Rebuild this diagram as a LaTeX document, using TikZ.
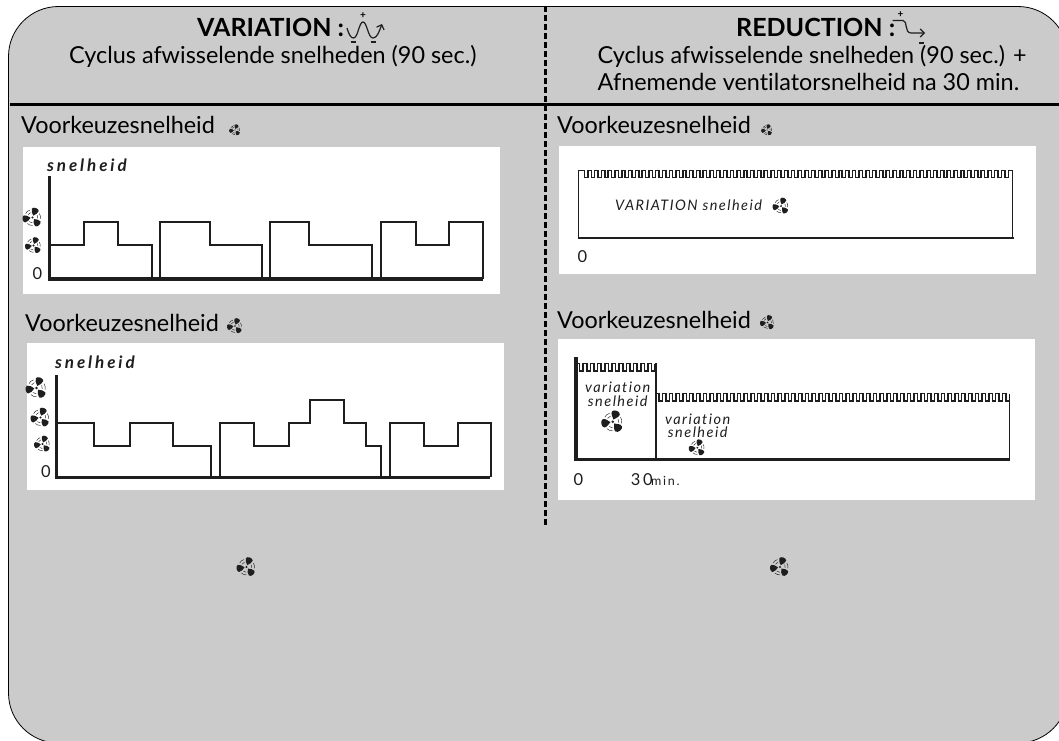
\documentclass[tikz,border=0pt]{standalone}
\usepackage{fontspec}
\setmainfont{Lato}[Ligatures=NoCommon]
\usetikzlibrary{arrows.meta}
\definecolor{panelgray}{RGB}{203, 203, 203}
\definecolor{inkblack}{RGB}{30, 30, 30}
\tikzset{
    bodytext/.style={anchor=base west, inner sep=0pt, text=black, font=\fontsize{23.4}{27}\selectfont},
    headtext/.style={anchor=base west, inner sep=0pt, text=black, font=\fontsize{25}{29}\selectfont\bfseries},
    axislabel/.style={anchor=base west, inner sep=0pt, text=inkblack,
        font=\fontsize{17}{20}\selectfont\itshape\bfseries\addfontfeature{LetterSpace=17}},
    chartlabel/.style={anchor=base, inner sep=0pt, text=inkblack,
        font=\fontsize{14.5}{17}\selectfont\itshape\addfontfeature{LetterSpace=10}},
    smallnumber/.style={anchor=base west, inner sep=0pt, text=inkblack, font=\fontsize{16.5}{20}\selectfont},
    iconsign/.style={inner sep=0pt, font=\bfseries\fontsize{10}{10}\selectfont},
    whitepanel/.style={fill=white},
    stepline/.style={draw=inkblack, line width=2pt, line join=miter},
    axisline/.style={draw=inkblack, line width=3.4pt},
    waveline/.style={draw=inkblack, line width=1.5pt},
    iconline/.style={draw=inkblack, line width=1.2pt},
    fanicon/.pic={
        \fill[inkblack] (0, 0) circle (.12);
        \foreach \ang in {70, 190, 310} {%
            \fill[inkblack, rotate=\ang]
                (.2, 0) .. controls (.42, .16) and (.58, .42) .. (.82, .36)
                .. controls (1.07, .28) and (1.07, -.28) .. (.82, -.36)
                .. controls (.58, -.42) and (.42, -.16) .. (.2, 0);
            \draw[inkblack, line width=.45pt, rotate=\ang+60]
                (.5, .16) .. controls (.55, .06) and (.55, -.06) .. (.5, -.16);
            \draw[inkblack, line width=.45pt, rotate=\ang+60]
                (.74, .27) .. controls (.82, .1) and (.82, -.1) .. (.74, -.27);
        };
    }
}

\begin{document}
\begin{tikzpicture}[x=1pt, y=-1pt]

    \useasboundingbox (0, 0) rectangle (1059, 740);

    \begin{scope}
        \clip (0, 0) rectangle (1059, 740);
        \filldraw[fill=panelgray, draw=black, line width=.8pt, rounded corners=50pt]
            (8.5, 6.5) rectangle (1068, 743);
    \end{scope}

    \draw[black, line width=3pt] (10, 104) -- (1059, 104);
    \draw[black, line width=3pt, dash pattern=on 6pt off 3pt] (545, 6) -- (545, 527);

    % header texts
    \node[headtext] (varhead) at (197, 36.5) {VARIATION :};
    \node[bodytext] (varline) at (69, 63) {Cyclus afwisselende snelheden (90 sec.)};
    \node[headtext] (redhead) at (736, 36.5) {REDUCTION :};
    \node[bodytext] (redlineone) at (597.5, 63) {Cyclus afwisselende snelheden (90 sec.) +};
    \node[bodytext] (redlinetwo) at (597.5, 90.5) {Afnemende ventilatorsnelheid na 30 min.};

    % header icons
    \draw[iconline, -{Straight Barb[length=4pt, width=8pt]}]
        (347, 28) .. controls (349, 35) and (351, 38) .. (353.5, 38)
        .. controls (358, 38) and (359, 22) .. (363, 22)
        .. controls (367, 22) and (368, 38) .. (373, 38)
        .. controls (377, 38) and (379, 32) .. (382, 24);
    \node[iconsign] (varplus) at (363, 15.5) {+};
    \draw[iconline] (350.5, 42) -- (355.5, 42);
    \draw[iconline] (370.5, 42) -- (375.5, 42);

    \draw[iconline, -{Straight Barb[length=4pt, width=8pt]}]
        (892.5, 20.5) -- (903, 20.5) .. controls (908, 20.5) and (904, 33) .. (911, 33) -- (925, 33);
    \node[iconsign] (redplus) at (900.5, 14.5) {+};
    \draw[iconline] (919, 43) -- (924, 43);

    \fill[whitepanel] (23, 147) rectangle (500, 294);
    \fill[whitepanel] (27, 343) rectangle (504, 490);
    \fill[whitepanel] (559, 146) rectangle (1036, 274);
    \fill[whitepanel] (558, 339) rectangle (1035, 500);

    \node[bodytext] (prefA) at (21, 133) {Voorkeuzesnelheid};
    \node[bodytext] (prefB) at (25, 331.5) {Voorkeuzesnelheid};
    \node[bodytext] (prefC) at (557, 133) {Voorkeuzesnelheid};
    \node[bodytext] (prefD) at (557, 328.5) {Voorkeuzesnelheid};

    \pic[scale=6] at (235, 130) {fanicon};
    \pic[scale=8] at (235, 326) {fanicon};
    \pic[scale=6] at (767, 130) {fanicon};
    \pic[scale=7.5] at (767.5, 322.5) {fanicon};
    \pic[scale=10] at (246.5, 567) {fanicon};
    \pic[scale=10] at (780, 567) {fanicon};

    % top left chart
    \node[axislabel] (speedA) at (47, 171) {snelheid};
    \draw[stepline]
        (49, 244.5) -- (84, 244.5) -- (84, 222) -- (117.5, 222) -- (117.5, 244.5)
        -- (151.5, 244.5) -- (151.5, 279)
        (160, 279) -- (160, 222) -- (210, 222) -- (210, 244.5) -- (261.5, 244.5) -- (261.5, 279)
        (270, 279) -- (270, 222) -- (309, 222) -- (309, 244.5) -- (372, 244.5) -- (372, 279)
        (380.5, 279) -- (380.5, 222) -- (415.5, 222) -- (415.5, 244.5) -- (449, 244.5)
        -- (449, 222) -- (482.5, 222) -- (482.5, 279);
    \draw[axisline] (49.5, 176) -- (49.5, 279) -- (483, 279);
    \pic[scale=10] at (32.5, 217.5) {fanicon};
    \pic[scale=8.5] at (33.5, 245.5) {fanicon};
    \node[smallnumber] (zeroA) at (32.5, 279) {0};

    % lower left chart
    \node[axislabel] (speedB) at (55, 368) {snelheid};
    \draw[stepline]
        (57, 423) -- (93.5, 423) -- (93.5, 446) -- (130, 446) -- (130, 423) -- (172.5, 423)
        -- (172.5, 446) -- (210.5, 446) -- (210.5, 477)
        (219.5, 477) -- (219.5, 423) -- (254, 423) -- (254, 446) -- (289, 446) -- (289, 423)
        -- (310, 423) -- (310, 400) -- (344, 400) -- (344, 423) -- (365.5, 423) -- (365.5, 446)
        -- (380.5, 446) -- (380.5, 477)
        (389.5, 477) -- (389.5, 423) -- (423.5, 423) -- (423.5, 446) -- (457.5, 446)
        -- (457.5, 423) -- (490.5, 423) -- (490.5, 477);
    \draw[axisline] (56.5, 375) -- (56.5, 477.5) -- (490, 477.5);
    \pic[scale=11] at (36.5, 388) {fanicon};
    \pic[scale=10] at (40.5, 417.5) {fanicon};
    \pic[scale=8.5] at (42.5, 444) {fanicon};
    \node[smallnumber] (zeroB) at (41, 477.5) {0};

    % top right chart
    \draw[waveline]
        (578.7, 238) -- (578.7, 170.5) -- (584.5, 170.5)
        \foreach \tooth in {1, ..., 63} {%
            -- ++(0, 7) -- ++(3.39, 0) -- ++(0, -7) -- ++(3.39, 0)
        }
        -- (1012.7, 170.5) -- (1012.7, 238);
    \draw[axisline, line width=2.4pt] (578, 238) -- (1013.5, 238);
    \node[chartlabel, anchor=base west] (speedC) at (615, 210.5) {VARIATION snelheid};
    \pic[scale=8.5] at (781, 206) {fanicon};
    \node[smallnumber] (zeroC) at (577.5, 262.5) {0};

    % lower right chart
    \draw[axisline] (576, 357) -- (576, 459.5) -- (1010, 459.5);
    \draw[waveline] (576, 363.5)
        \foreach \tooth in {1, ..., 11} {%
            -- ++(3.6, 0) -- ++(0, 7.5) -- ++(3.6, 0) -- ++(0, -7.5)
        };
    \draw[waveline, line width=1.8pt] (655.7, 363) -- (655.7, 459);
    \draw[waveline] (655.7, 393.5)
        \foreach \tooth in {1, ..., 52} {%
            -- ++(3.4, 0) -- ++(0, 7.5) -- ++(3.4, 0) -- ++(0, -7.5)
        };
    \draw[waveline] (1009.5, 393.5) -- (1009.5, 459);
    \node[chartlabel] (varyA) at (617.7, 392.5) {variation};
    \node[chartlabel] (speedD) at (617.7, 406) {snelheid};
    \pic[scale=11.5] at (612.7, 421.7) {fanicon};
    \node[chartlabel] (varyB) at (697.7, 424.5) {variation};
    \node[chartlabel] (speedE) at (697.7, 437.5) {snelheid};
    \pic[scale=8.5] at (697.3, 447.7) {fanicon};
    \node[smallnumber] (zeroD) at (573.5, 485) {0};
    \node[smallnumber] (thirty) at (630.7, 485) {3\,0};
    \node[smallnumber, font=\fontsize{12.5}{14}\selectfont\addfontfeature{LetterSpace=14}] (minutes) at (651, 485) {min.};

\end{tikzpicture}
\end{document}
